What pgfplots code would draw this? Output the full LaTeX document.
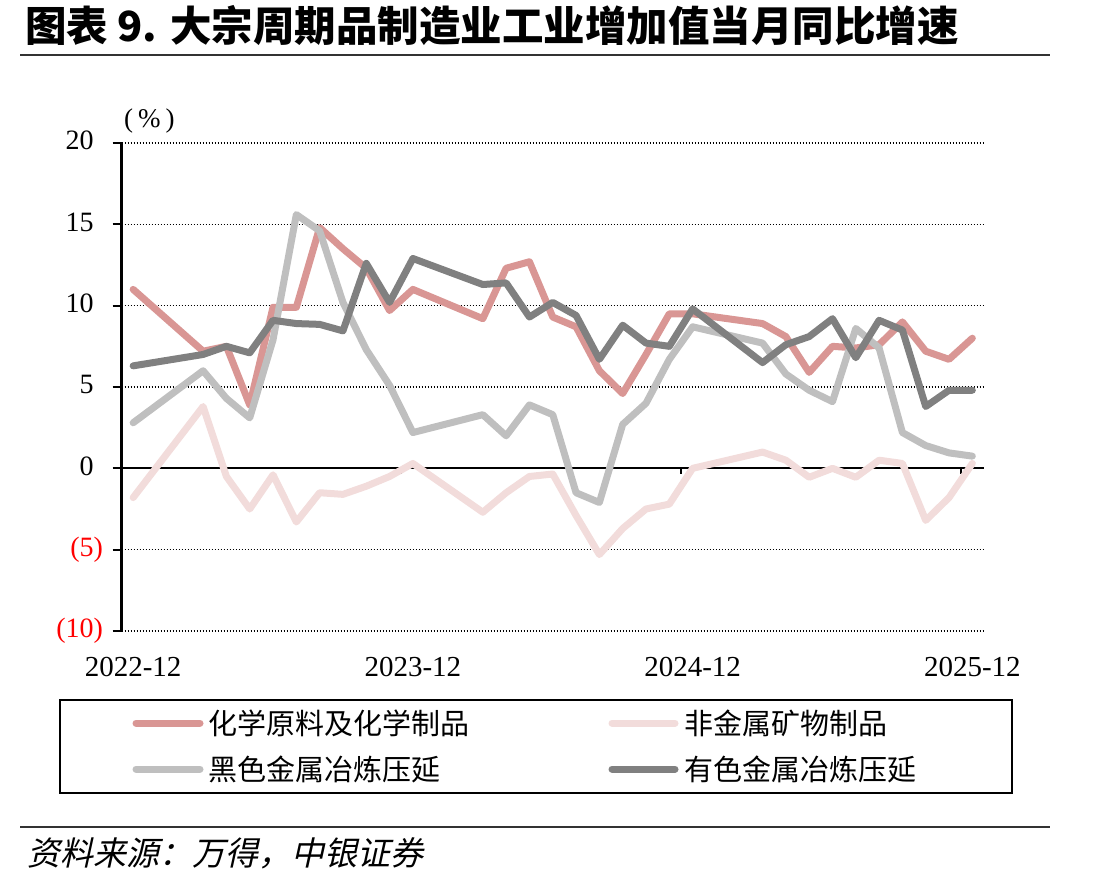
\documentclass[border=0pt]{standalone}
\usepackage{pgfplots}
\pgfplotsset{compat=1.18}
\usepackage{fontspec}
\setmainfont{Liberation Serif}
\newfontfamily\cjk{Noto Sans CJK SC}
\newfontfamily\cjkit[FakeSlant=0.22]{Noto Sans CJK SC}
\definecolor{cchem}{RGB}{217,150,148}
\definecolor{cnonmet}{RGB}{242,220,219}
\definecolor{cferr}{RGB}{191,191,191}
\definecolor{cnonfer}{RGB}{128,128,128}
\begin{document}
\begin{tikzpicture}
\path[use as bounding box] (0pt,0pt) rectangle (1099pt,-885pt);
% title and rules
\node[anchor=west, inner sep=0pt] at (25pt,-26pt) {\cjk\bfseries\fontsize{41.5}{44}\selectfont 图表 9. 大宗周期品制造业工业增加值当月同比增速};
\draw[line width=2.5pt, black!80] (20pt,-55pt) -- (1050pt,-55pt);
\draw[line width=2.5pt, black!80] (20pt,-827pt) -- (1050pt,-827pt);
\node[anchor=west, inner sep=0pt] at (27pt,-853pt) {\cjkit\fontsize{33}{35}\selectfont 资料来源：万得，中银证券};
\node[anchor=west, inner sep=0pt] at (124pt,-121pt) {\fontsize{27}{29}\selectfont(\hspace{5pt}\%\hspace{5pt})};
\begin{axis}[
  at={(121.5pt,-631pt)}, anchor=south west,
  scale only axis, width=862.5pt, height=488pt,
  xmin=-0.5, xmax=36.5, ymin=-10, ymax=20,
  axis line style={draw=none},
  clip=false,
  xtick={0,12,24,36},
  xticklabels={2022-12,2023-12,2024-12,2025-12},
  x tick style={draw=none},
  xticklabel style={font=\fontsize{29}{31}\selectfont, yshift=-14pt},
  ytick={-10,-5,0,5,10,15,20},
  yticklabels={{\textcolor{red}{(10)}},{\textcolor{red}{(5)}},0\phantom{)},5\phantom{)},10\phantom{)},15\phantom{)},20\phantom{)}},
  ytick pos=left, tick align=outside, major tick length=9pt,
  y tick style={black, line width=2pt},
  yticklabel style={font=\fontsize{28}{30}\selectfont, xshift=-6pt},
  ymajorgrids,
  y grid style={black, line width=1.5pt, dash pattern=on 1.5pt off 1.5pt},
  every axis plot/.append style={line width=7pt, line join=round, line cap=round, mark=none},
]
\draw[black, line width=2pt] (axis cs:-0.5,0) -- (axis cs:36.5,0);
\draw[black, line width=2pt] (axis cs:11.5,0) -- ++(0pt,-6pt);
\draw[black, line width=2pt] (axis cs:23.5,0) -- ++(0pt,-6pt);
\draw[black, line width=2pt] (axis cs:35.5,0) -- ++(0pt,-6pt);
\draw[black, line width=2.5pt] (axis cs:-0.5,-10) -- (axis cs:-0.5,20);
% chemical raw materials
\addplot[cchem] coordinates {
(0,11.0) (3,7.2) (4,7.5) (5,3.9) (6,9.9) (7,9.9) (8,14.8) (9,13.5) (10,12.3) (11,9.7) (12,11.0)
(15,9.2) (16,12.3) (17,12.7) (18,9.3) (19,8.7) (20,6.0) (21,4.6) (22,7.0) (23,9.5) (24,9.5)
(27,8.9) (28,8.1) (29,5.9) (30,7.5) (31,7.4) (32,7.6) (33,9.0) (34,7.2) (35,6.7) (36,8.0)};
% non-metallic minerals
\addplot[cnonmet] coordinates {
(0,-1.8) (3,3.8) (4,-0.5) (5,-2.5) (6,-0.4) (7,-3.3) (8,-1.5) (9,-1.6) (10,-1.1) (11,-0.5) (12,0.3)
(15,-2.7) (16,-1.5) (17,-0.5) (18,-0.35) (19,-2.9) (20,-5.3) (21,-3.7) (22,-2.5) (23,-2.2) (24,0.0)
(27,1.0) (28,0.5) (29,-0.55) (30,0.0) (31,-0.55) (32,0.5) (33,0.3) (34,-3.2) (35,-1.8) (36,0.3)};
% ferrous
\addplot[cferr] coordinates {
(0,2.8) (3,6.0) (4,4.3) (5,3.1) (6,7.9) (7,15.6) (8,14.6) (9,10.2) (10,7.3) (11,5.1) (12,2.2)
(15,3.3) (16,2.0) (17,3.9) (18,3.3) (19,-1.5) (20,-2.1) (21,2.7) (22,4.0) (23,6.7) (24,8.7)
(27,7.7) (28,5.8) (29,4.8) (30,4.1) (31,8.6) (32,7.4) (33,2.2) (34,1.4) (35,0.95) (36,0.75)};
% non-ferrous
\addplot[cnonfer] coordinates {
(0,6.3) (3,7.0) (4,7.5) (5,7.1) (6,9.1) (7,8.9) (8,8.85) (9,8.45) (10,12.6) (11,10.2) (12,12.9)
(15,11.3) (16,11.4) (17,9.3) (18,10.2) (19,9.4) (20,6.7) (21,8.8) (22,7.7) (23,7.5) (24,9.8)
(27,6.5) (28,7.6) (29,8.1) (30,9.2) (31,6.8) (32,9.1) (33,8.5) (34,3.8) (35,4.8) (36,4.8)};
\end{axis}
% legend
\draw[line width=2pt, black] (60pt,-700pt) rectangle (1012pt,-793pt);
\draw[line width=7pt, line cap=round, cchem] (136pt,-723pt) -- (200pt,-723pt);
\draw[line width=7pt, line cap=round, cferr] (136pt,-769pt) -- (200pt,-769pt);
\draw[line width=7pt, line cap=round, cnonmet] (612pt,-723pt) -- (675pt,-723pt);
\draw[line width=7pt, line cap=round, cnonfer] (612pt,-769pt) -- (675pt,-769pt);
\node[anchor=west, inner sep=0pt] at (208pt,-723pt) {\cjk\fontsize{29}{31}\selectfont 化学原料及化学制品};
\node[anchor=west, inner sep=0pt] at (208pt,-769pt) {\cjk\fontsize{29}{31}\selectfont 黑色金属冶炼压延};
\node[anchor=west, inner sep=0pt] at (684pt,-723pt) {\cjk\fontsize{29}{31}\selectfont 非金属矿物制品};
\node[anchor=west, inner sep=0pt] at (684pt,-769pt) {\cjk\fontsize{29}{31}\selectfont 有色金属冶炼压延};
\end{tikzpicture}
\end{document}
